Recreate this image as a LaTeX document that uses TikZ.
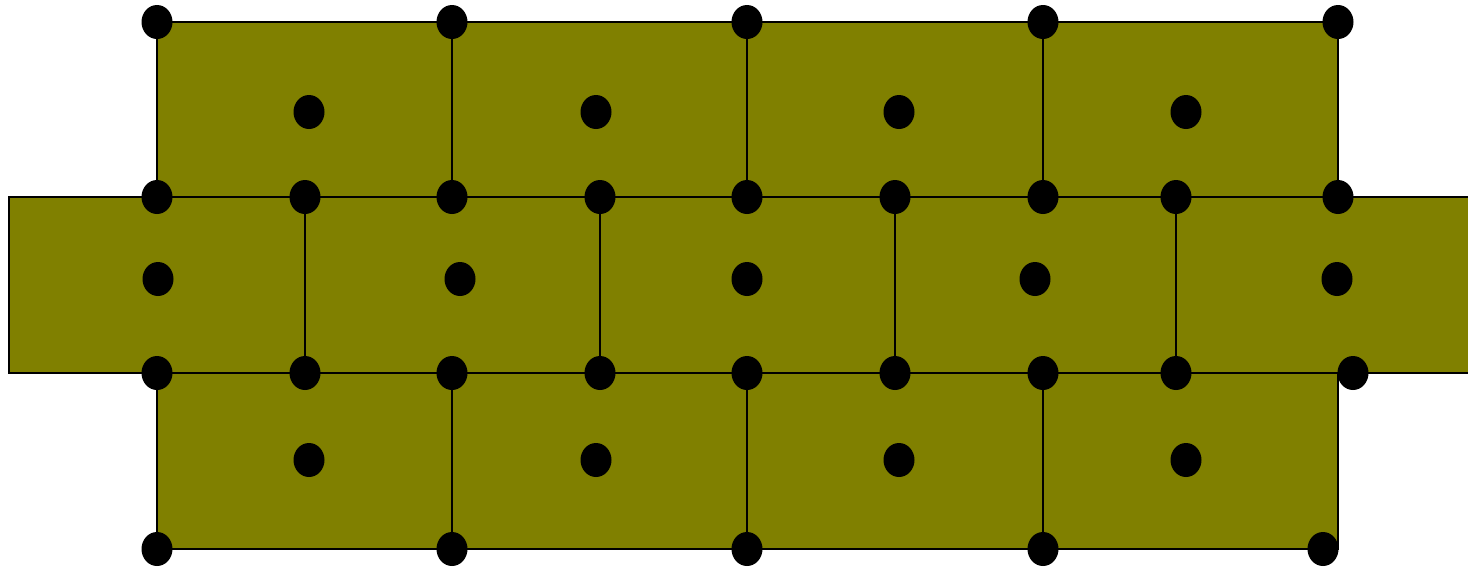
\documentclass[tikz,border=0pt]{standalone}
\usetikzlibrary{shapes.geometric}
\definecolor{olivefill}{HTML}{808000}
\begin{document}
\begin{tikzpicture}[x=1pt,y=-1pt,
  tile/.style={fill=olivefill,draw=black,line width=1.6pt},
  dot/.style={ellipse,fill=black,inner sep=0pt,minimum width=31pt,minimum height=34pt}]
\useasboundingbox (0,0) rectangle (1468,568);
% top row
\foreach \a/\b in {157/452,452/747,747/1043,1043/1338}
  \draw[tile] (\a,22) rectangle (\b,197);
% middle row
\foreach \a/\b in {9/305,305/600,600/895,895/1176,1176/1472}
  \draw[tile] (\a,197) rectangle (\b,373);
% bottom row
\foreach \a/\b in {157/452,452/747,747/1043,1043/1338}
  \draw[tile] (\a,373) rectangle (\b,549);
% dots
\foreach \x [count=\i] in {157,452,747,1043,1338}
  \node[dot] (t\i) at (\x,22) {};
\foreach \x [count=\i] in {309,596,899,1186}
  \node[dot] (tc\i) at (\x,112) {};
\foreach \x [count=\i] in {157,305,452,600,747,895,1043,1176,1338}
  \node[dot] (m\i) at (\x,197) {};
\foreach \x [count=\i] in {158,460,747,1035,1337}
  \node[dot] (mc\i) at (\x,279) {};
\foreach \x [count=\i] in {157,305,452,600,747,895,1043,1176,1353}
  \node[dot] (n\i) at (\x,373) {};
\foreach \x [count=\i] in {309,596,899,1186}
  \node[dot] (bc\i) at (\x,460) {};
\foreach \x [count=\i] in {157,452,747,1043,1323}
  \node[dot] (b\i) at (\x,549) {};
\end{tikzpicture}
\end{document}
